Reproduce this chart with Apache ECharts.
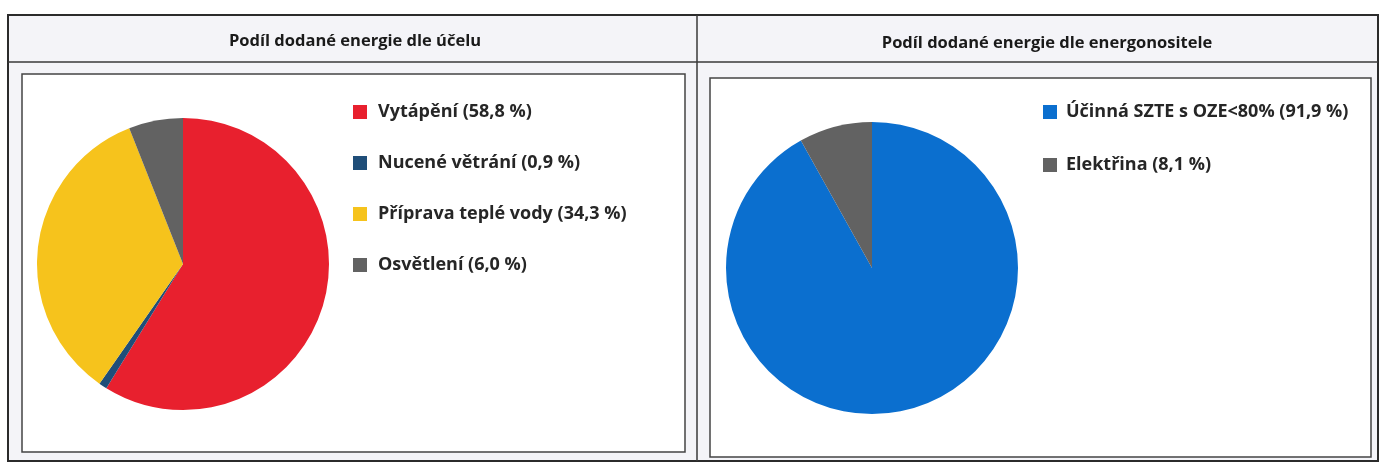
<!DOCTYPE html>
<html>
<head>
<meta charset="utf-8">
<script src="https://cdn.jsdelivr.net/npm/echarts@6/dist/echarts.min.js"></script>
<style>
  html, body { margin: 0; padding: 0; background: #ffffff; }
  #chart { width: 1380px; height: 463px; }
</style>
</head>
<body>
<div id="chart"></div>
<script>
// podíl dle účelu
var purposeNames = ['Vytápění', 'Nucené větrání', 'Příprava teplé vody', 'Osvětlení'];
var purposeValues = [58.8, 0.9, 34.3, 6.0];
var purposeColors = ['#e8202e', '#1f4e79', '#f6c31c', '#626262'];

// podíl dle energonositele
var carrierNames = ['Účinná SZTE s OZE<80%', 'Elektřina'];
var carrierValues = [91.9, 8.1];
var carrierColors = ['#0b6fcf', '#626262'];

var titles = ['Podíl dodané energie dle účelu', 'Podíl dodané energie dle energonositele'];

var font = '"Open Sans", "Noto Sans", "Liberation Sans", sans-serif';

function fmt(v) {
  return v.toFixed(1).replace('.', ',') + ' %';
}

function toData(names, values) {
  var out = [];
  for (var i = 0; i < names.length; i++) {
    out.push({ name: names[i], value: values[i] });
  }
  return out;
}

function legendFormatter(names, values) {
  return function (name) {
    var i = names.indexOf(name);
    return name + ' (' + fmt(values[i]) + ')';
  };
}

var chart = echarts.init(document.getElementById('chart'), null, { renderer: 'canvas' });

var option = {
  animation: false,
  backgroundColor: '#ffffff',
  graphic: [
    // vnější tabulka
    { type: 'rect', z: -10, shape: { x: 8, y: 15, width: 1370, height: 446 },
      style: { fill: '#f4f4f8', stroke: '#2b2b2b', lineWidth: 2 } },
    { type: 'line', z: -9, shape: { x1: 8, y1: 62, x2: 1378, y2: 62 },
      style: { stroke: '#3a3a3a', lineWidth: 1.5 } },
    { type: 'line', z: -9, shape: { x1: 697, y1: 15, x2: 697, y2: 461 },
      style: { stroke: '#3a3a3a', lineWidth: 1.5 } },
    // vnitřní rámečky grafů
    { type: 'rect', z: -8, shape: { x: 22, y: 74, width: 663, height: 378 },
      style: { fill: '#ffffff', stroke: '#444444', lineWidth: 1.5 } },
    { type: 'rect', z: -8, shape: { x: 710, y: 78, width: 661, height: 379 },
      style: { fill: '#ffffff', stroke: '#444444', lineWidth: 1.5 } }
  ],
  title: [
    { text: titles[0], left: 350, top: 28, textAlign: 'center',
      textStyle: { fontFamily: font, fontSize: 16.5, fontWeight: 'bold', color: '#1a1a1a' } },
    { text: titles[1], left: 1042, top: 30, textAlign: 'center',
      textStyle: { fontFamily: font, fontSize: 16.5, fontWeight: 'bold', color: '#1a1a1a' } }
  ],
  legend: [
    {
      orient: 'vertical', left: 348, top: 97,
      data: purposeNames, icon: 'rect', itemWidth: 14, itemHeight: 14, itemGap: 31,
      selectedMode: false,
      formatter: legendFormatter(purposeNames, purposeValues),
      textStyle: { fontFamily: font, fontSize: 18, fontWeight: 'bold', color: '#262626',
        lineHeight: 20, padding: [0, 0, 0, 6] }
    },
    {
      orient: 'vertical', left: 1038, top: 97,
      data: carrierNames, icon: 'rect', itemWidth: 14, itemHeight: 14, itemGap: 33,
      selectedMode: false,
      formatter: legendFormatter(carrierNames, carrierValues),
      textStyle: { fontFamily: font, fontSize: 18, fontWeight: 'bold', color: '#262626',
        lineHeight: 20, padding: [0, 0, 0, 4] }
    }
  ],
  series: [
    {
      type: 'pie', silent: true,
      center: [183, 264], radius: 146,
      startAngle: 90, clockwise: true,
      label: { show: false }, labelLine: { show: false },
      color: purposeColors,
      itemStyle: { borderWidth: 0 },
      data: toData(purposeNames, purposeValues)
    },
    {
      type: 'pie', silent: true,
      center: [872, 268], radius: 146,
      startAngle: 90, clockwise: true,
      label: { show: false }, labelLine: { show: false },
      color: carrierColors,
      itemStyle: { borderWidth: 0 },
      data: toData(carrierNames, carrierValues)
    }
  ]
};

chart.setOption(option);
</script>
</body>
</html>
